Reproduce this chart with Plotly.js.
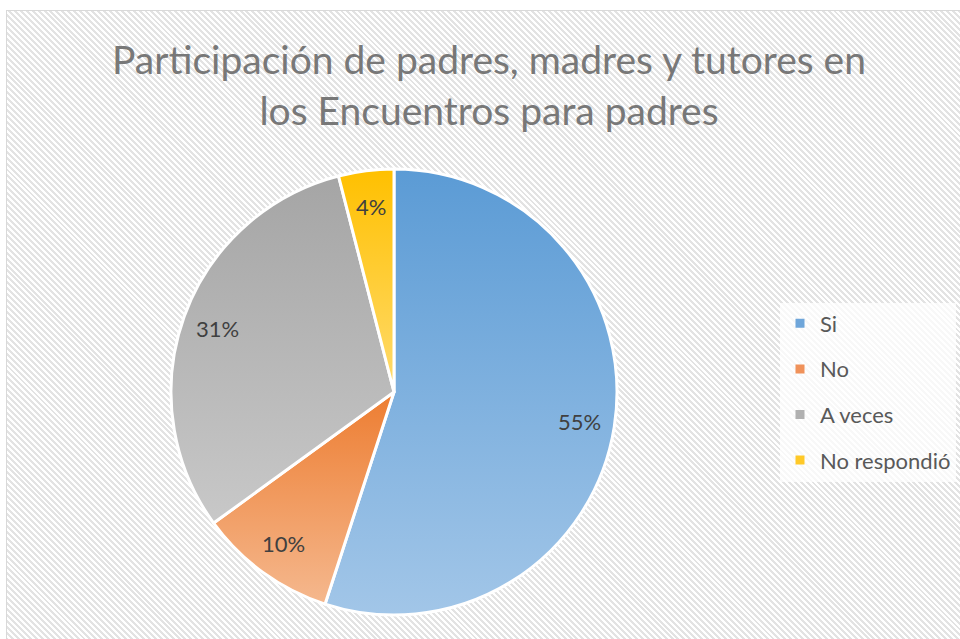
<!DOCTYPE html>
<html>
<head>
<meta charset="utf-8">
<script src="https://cdn.plot.ly/plotly-3.0.1.min.js"></script>
<style>
  html, body { margin: 0; padding: 0; background: #ffffff; }
  #wrap { position: relative; width: 960px; height: 639px; overflow: hidden; background: #ffffff; }
  #frame {
    position: absolute; left: 6px; top: 10px; width: 970px; height: 650px;
    border: 1.5px solid #d9d9d9;
    background: repeating-linear-gradient(45deg, #ffffff 0px, #ffffff 2.1px, #e3e3e3 2.1px, #e3e3e3 4.2px);
  }
  #chart { position: absolute; left: 0; top: 0; width: 960px; height: 639px; }
</style>
</head>
<body>
<div id="wrap">
  <div id="frame"></div>
  <div id="chart"></div>
</div>
<script>
const labels = ['Si', 'No', 'A veces', 'No respondió'];
const values = [55, 10, 31, 4];
const topColors = ['#5b9bd5', '#ed7d31', '#a5a5a5', '#ffc000'];
const bottomColors = ['#a2c6e8', '#f5b88e', '#c8c8c8', '#ffdb6e'];
const legendColors = ['#6fa6da', '#f0925a', '#b0b0b0', '#ffc928'];
const titleText = 'Participación de padres, madres y tutores en<br>los Encuentros para padres';

const W = 960, H = 639;
const cx = 394, cy = 392, R = 223;
const labelRadius = 0.84;
const FONT = 'Lato, "Open Sans", sans-serif';

const pie = {
  type: 'pie',
  labels: labels,
  values: values,
  sort: false,
  direction: 'clockwise',
  rotation: 0,
  textinfo: 'none',
  marker: { colors: topColors, line: { color: '#ffffff', width: 3 } },
  showlegend: false,
  hoverinfo: 'label+percent',
  domain: { x: [(cx - R) / W, (cx + R) / W], y: [1 - (cy + R) / H, 1 - (cy - R) / H] }
};

const legendTraces = labels.map((l, i) => ({
  type: 'scatter', x: [null], y: [null], mode: 'markers', name: l,
  legendgroup: 'g' + i,
  marker: { symbol: 'square', size: 9, color: legendColors[i] },
  hoverinfo: 'skip'
}));

// percentage labels placed at each slice's mid-angle
const total = values.reduce((a, b) => a + b, 0);
let cum = 0;
const annotations = values.map(function (v) {
  const mid = (cum + v / 2) / total * 2 * Math.PI;
  cum += v;
  const r = labelRadius * R;
  return {
    xref: 'paper', yref: 'paper',
    x: (cx + r * Math.sin(mid)) / W,
    y: 1 - (cy - r * Math.cos(mid)) / H,
    xanchor: 'center', yanchor: 'middle',
    text: Math.round(v / total * 100) + '%',
    showarrow: false,
    font: { family: FONT, size: 22, color: '#404040' }
  };
});

const layout = {
  width: W, height: H,
  margin: { l: 0, r: 0, t: 0, b: 0 },
  paper_bgcolor: 'rgba(0,0,0,0)',
  plot_bgcolor: 'rgba(0,0,0,0)',
  title: {
    text: titleText,
    x: 489 / W, xanchor: 'center',
    y: 1 - 74 / H, yanchor: 'top',
    font: { family: FONT, size: 39, color: '#787878' }
  },
  xaxis: { visible: false },
  yaxis: { visible: false },
  annotations: annotations,
  showlegend: true,
  legend: {
    x: 780 / W, xanchor: 'left',
    y: 1 - 392 / H, yanchor: 'middle',
    bgcolor: 'rgba(255,255,255,0.75)',
    font: { family: FONT, size: 22, color: '#595959' },
    tracegroupgap: 14,
    traceorder: 'grouped',
    itemwidth: 30
  }
};

Plotly.newPlot('chart', [pie].concat(legendTraces), layout, { displayModeBar: false, staticPlot: true }).then(function (gd) {
  const svg = gd.querySelector('.main-svg');
  let defs = svg.querySelector('defs');
  const ns = 'http://www.w3.org/2000/svg';
  topColors.forEach(function (c, i) {
    const g = document.createElementNS(ns, 'linearGradient');
    g.setAttribute('id', 'sliceGrad' + i);
    g.setAttribute('x1', '0'); g.setAttribute('y1', '0');
    g.setAttribute('x2', '0'); g.setAttribute('y2', '1');
    const s1 = document.createElementNS(ns, 'stop');
    s1.setAttribute('offset', '0'); s1.setAttribute('stop-color', c);
    const s2 = document.createElementNS(ns, 'stop');
    s2.setAttribute('offset', '1'); s2.setAttribute('stop-color', bottomColors[i]);
    g.appendChild(s1); g.appendChild(s2);
    defs.appendChild(g);
  });
  gd.querySelectorAll('g.slice').forEach(function (s, i) {
    const p = s.querySelector('path.surface');
    if (p) p.style.fill = 'url(#sliceGrad' + i + ')';
  });
});
</script>
</body>
</html>
